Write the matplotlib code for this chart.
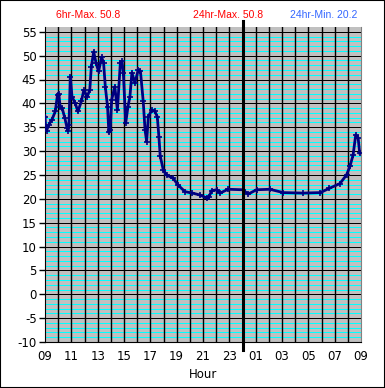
import matplotlib
matplotlib.use("Agg")
import matplotlib.pyplot as plt
from matplotlib.patches import Rectangle
from matplotlib.lines import Line2D

# hours since 09:00 and temperature readings
hours = [0.0, 0.05, 0.12, 0.28, 0.53, 0.78, 0.95, 1.05, 1.15, 1.3, 1.5, 1.67, 1.75, 1.82,
         1.92, 2.05, 2.3, 2.5, 2.76, 2.95, 3.2, 3.4, 3.52, 3.7, 3.88, 4.07, 4.3, 4.45,
         4.58, 4.75, 4.85, 4.95, 5.06, 5.3, 5.5, 5.72, 5.85, 5.95, 6.13, 6.3, 6.45, 6.6,
         6.83, 7.08, 7.25, 7.46, 7.6, 7.72, 7.85, 8.1, 8.35, 8.53, 8.65, 8.75, 8.98, 9.23,
         9.74, 10.1, 10.63, 11.2, 11.77, 12.27, 12.45, 12.66, 13.05, 13.3, 13.9, 15.0,
         15.44, 16.07, 17.08, 18.1, 19.6, 20.9, 21.6, 22.4, 22.9, 23.16, 23.4, 23.6,
         23.78, 23.9]
temps = [37.2, 35.0, 34.3, 35.5, 36.6, 38.3, 41.8, 42.0, 39.3, 39.0, 37.0, 34.9, 34.3, 35.5,
         45.6, 41.4, 40.0, 38.3, 40.4, 42.8, 41.4, 42.8, 47.7, 50.8, 48.4, 46.7, 49.7, 48.5,
         43.5, 39.3, 33.9, 34.4, 40.7, 43.5, 38.6, 48.4, 48.8, 46.4, 35.9, 39.3, 41.4, 46.4,
         44.3, 47.0, 46.7, 40.4, 34.4, 32.0, 37.2, 38.6, 38.3, 37.2, 33.0, 29.0, 26.1, 25.0,
         24.3, 22.9, 21.5, 21.2, 20.8, 20.2, 20.4, 21.7, 21.9, 21.2, 22.0, 21.9,
         21.0, 21.9, 22.0, 21.3, 21.2, 21.3, 22.2, 23.2, 25.0, 26.8, 29.2, 33.4,
         32.8, 29.6]

x_tick_labels = ["09", "11", "13", "15", "17", "19", "21", "23", "01", "03", "05", "07", "09"]
y_ticks = list(range(-10, 60, 5))
header_texts = ["6hr-Max. 50.8", "24hr-Max. 50.8", "24hr-Min. 20.2"]
header_colors = ["#ff0000", "#ff0000", "#3366ff"]

W, H = 385, 388
fig = plt.figure(figsize=(W / 100, H / 100), dpi=100)
fig.patch.set_facecolor("white")
fig.patches.append(Rectangle((0, 0), 1, 1, transform=fig.transFigure, fill=False,
                             edgecolor="black", linewidth=1.5))

left, right, top, bottom = 45, 361, 27, 342
ax = fig.add_axes([left / W, 1 - bottom / H, (right - left) / W, (bottom - top) / H])
ax.set_facecolor("#c0c0c0")
ax.set_xlim(0, 24)
ax.set_ylim(-10, 56)

px = 0.72  # one pixel in points at 100 dpi
for v in range(-10, 56):
    if v % 5 != 0:
        ax.axhline(v, color="#00ffff", lw=px, zorder=1)
for v in y_ticks:
    ax.axhline(v, color="black", lw=px, zorder=2)
for hh in range(1, 24):
    ax.axvline(hh, color="black", lw=1.4 * px, zorder=2)

ax.plot(hours, temps, color="#000080", lw=2.0, zorder=3)
ax.plot(hours, temps, color="#000080", lw=0, marker="+", ms=4, mew=1.2, zorder=4)

# midnight line extending beyond plot
ax.add_line(Line2D([15, 15], [-11.6, 57.2], color="black", lw=2.2, clip_on=False, zorder=5))

ax.set_yticks(y_ticks)
ax.set_yticklabels([str(v) for v in y_ticks], fontsize=8.5, family="DejaVu Sans")
ax.set_xticks(range(0, 25, 2))
ax.set_xticklabels(x_tick_labels, fontsize=8.5, family="DejaVu Sans")
ax.tick_params(axis="y", length=4, width=1, pad=2, direction="out")
ax.tick_params(axis="x", length=0, pad=6)
ax.set_xlabel("Hour", fontsize=8.5, family="DejaVu Sans", labelpad=3)

ax.spines["top"].set_visible(False)
ax.spines["right"].set_color("#808080")
ax.spines["left"].set_color("black")
ax.spines["bottom"].set_color("black")

xs = [88, 228, 324]
for t, c, xp in zip(header_texts, header_colors, xs):
    fig.text(xp / W, 1 - 15 / H, t, color=c, fontsize=7.5, family="Liberation Sans",
             ha="center", va="center")

fig.savefig("out.png", dpi=100)
